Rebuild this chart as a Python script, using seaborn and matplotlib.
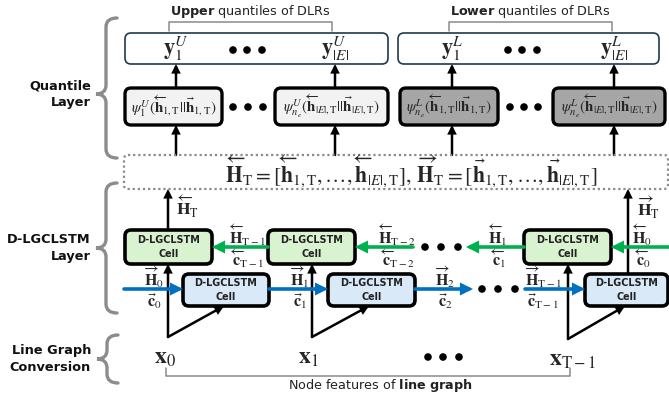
import numpy as np
import pandas as pd
import matplotlib
matplotlib.use("Agg")
import matplotlib.pyplot as plt
import seaborn as sns
from matplotlib.patches import FancyBboxPatch, FancyArrowPatch, PathPatch
from matplotlib.path import Path

sns.set_theme(style="white")
plt.rcParams['font.family'] = ['DejaVu Sans']
plt.rcParams['mathtext.fontset'] = 'stix'

# ---------------- content ----------------
section_titles = ["Quantile\nLayer", "D-LGCLSTM\nLayer", "Line Graph\nConversion"]
group_titles = [r"$\mathbf{Upper}$ quantiles of DLRs", r"$\mathbf{Lower}$ quantiles of DLRs"]
output_labels = [r"$\mathbf{y}_1^U$", r"$\mathbf{y}_{|E|}^U$", r"$\mathbf{y}_1^L$", r"$\mathbf{y}_{|E|}^L$"]
psi_labels = [
    r"$\psi_1^U(\overleftarrow{\mathbf{h}}_{1,\mathrm{T}}||\vec{\mathbf{h}}_{1,\mathrm{T}})$",
    r"$\psi_{n_e}^U(\overleftarrow{\mathbf{h}}_{|E|,\mathrm{T}}||\vec{\mathbf{h}}_{|E|,\mathrm{T}})$",
    r"$\psi_{n_e}^L(\overleftarrow{\mathbf{h}}_{1,\mathrm{T}}||\vec{\mathbf{h}}_{1,\mathrm{T}})$",
    r"$\psi_{n_e}^L(\overleftarrow{\mathbf{h}}_{|E|,\mathrm{T}}||\vec{\mathbf{h}}_{|E|,\mathrm{T}})$",
]
psi_shades = ["light", "light", "dark", "dark"]
hidden_formula = (r"$\overleftarrow{\mathbf{H}}_{\mathrm{T}}=[\overleftarrow{\mathbf{h}}_{1,\mathrm{T}},\ldots,"
                  r"\overleftarrow{\mathbf{h}}_{|E|,\mathrm{T}}],\,\overrightarrow{\mathbf{H}}_{\mathrm{T}}="
                  r"[\vec{\mathbf{h}}_{1,\mathrm{T}},\ldots,\vec{\mathbf{h}}_{|E|,\mathrm{T}}]$")
cell_label = "D-LGCLSTM\nCell"
backward_h = [r"$\overleftarrow{\mathbf{H}}_{\mathrm{T}-1}$", r"$\overleftarrow{\mathbf{H}}_{\mathrm{T}-2}$",
              r"$\overleftarrow{\mathbf{H}}_{1}$", r"$\overleftarrow{\mathbf{H}}_{0}$"]
backward_c = [r"$\overleftarrow{\mathbf{c}}_{\mathrm{T}-1}$", r"$\overleftarrow{\mathbf{c}}_{\mathrm{T}-2}$",
              r"$\overleftarrow{\mathbf{c}}_{1}$", r"$\overleftarrow{\mathbf{c}}_{0}$"]
forward_h = [r"$\overrightarrow{\mathbf{H}}_{0}$", r"$\overrightarrow{\mathbf{H}}_{1}$",
             r"$\overrightarrow{\mathbf{H}}_{2}$", r"$\overrightarrow{\mathbf{H}}_{\mathrm{T}-1}$"]
forward_c = [r"$\vec{\mathbf{c}}_{0}$", r"$\vec{\mathbf{c}}_{1}$", r"$\vec{\mathbf{c}}_{2}$", r"$\vec{\mathbf{c}}_{\mathrm{T}-1}$"]
final_states = [r"$\overleftarrow{\mathbf{H}}_{\mathrm{T}}$", r"$\overrightarrow{\mathbf{H}}_{\mathrm{T}}$"]
input_labels = [r"$\mathbf{x}_0$", r"$\mathbf{x}_1$", r"$\mathbf{x}_{\mathrm{T}-1}$"]
bottom_caption = r"Node features of $\mathbf{line\ graph}$"

# ---------------- layout (pixel coordinates) ----------------
W, H = 669, 401
fig = plt.figure(figsize=(W / 100, H / 100), dpi=100)
ax = fig.add_axes([0, 0, 1, 1])
ax.set_xlim(0, W)
ax.set_ylim(H, 0)
ax.axis('off')

GREEN, BLUE, GRAY = '#00b050', '#0070c0', '#8c8c8c'

def rbox(x0, y0, x1, y1, fc, ec, lw, r=6, ls='-'):
    p = FancyBboxPatch((x0, y0), x1 - x0, y1 - y0,
                       boxstyle=f"round,pad=0,rounding_size={r}",
                       fc=fc, ec=ec, lw=lw, ls=ls, zorder=3)
    ax.add_patch(p)

def arrow(x0, y0, x1, y1, color='black', lw=1.8, ms=11, z=2):
    ax.add_patch(FancyArrowPatch((x0, y0), (x1, y1), arrowstyle='-|>', mutation_scale=ms,
                                 lw=lw, color=color, shrinkA=0, shrinkB=0, zorder=z,
                                 joinstyle='miter'))

def brace(xt, y0, y1, ym, color=GRAY, lw=2.4):
    xm, xe, r = xt + 10, xt + 21, 9
    verts = [(xe, y0), (xm, y0), (xm, y0 + r), (xm, ym - r), (xm, ym), (xt, ym),
             (xm, ym), (xm, ym + r), (xm, y1 - r), (xm, y1), (xe, y1)]
    codes = [Path.MOVETO, Path.CURVE3, Path.CURVE3, Path.LINETO, Path.CURVE3, Path.CURVE3,
             Path.CURVE3, Path.CURVE3, Path.LINETO, Path.CURVE3, Path.CURVE3]
    ax.add_patch(PathPatch(Path(verts, codes), fc='none', ec=color, lw=lw, capstyle='round'))

# section braces and titles
sec_pos = [(96, 18, 158, 94), (96, 183, 313, 248), (97, 335, 383, 359)]
for title, (xt, y0, y1, ym) in zip(section_titles, sec_pos):
    brace(xt, y0, y1, ym)
    ax.text(91, ym, title, ha='right', va='center', multialignment='right',
            fontsize=9.3, fontweight='bold', color='#111111', linespacing=1.35)

# group titles with brackets
grp_pos = [(250, 169, 332), (530, 449, 612)]
for title, (xc, xa, xb) in zip(group_titles, grp_pos):
    ax.text(xc, 12, title, ha='center', va='center', fontsize=9.2, color='#222222',
            math_fontfamily='dejavusans')
    ax.plot([xa, xa, xb, xb], [31, 22, 22, 31], color='#8a8a8a', lw=1.1)

# output boxes
for x0, x1 in [(125, 388), (398, 659)]:
    rbox(x0, 33, x1, 64, 'white', '#1f3a4d', 1.2, r=6)
out_x = [176, 335, 452, 614]
for lab, x in zip(output_labels, out_x):
    ax.text(x, 49, lab, ha='center', va='center', fontsize=16, zorder=5)

# psi boxes
psi_box = [(125, 222), (275, 388), (400, 498), (553, 665)]
shade = {'light': '#f2f2f2', 'dark': '#a6a6a6'}
for lab, sh, (x0, x1) in zip(psi_labels, psi_shades, psi_box):
    rbox(x0, 88, x1, 125, shade[sh], 'black', 2.4, r=6)
    ax.text((x0 + x1) / 2, 106, lab, ha='center', va='center', fontsize=10.8, zorder=5)

# arrows psi -> outputs and hidden -> psi
for x in out_x:
    arrow(x, 88, x, 64, ms=10)
    arrow(x, 155, x, 125, ms=10)

# hidden-state dotted box
rbox(124, 155, 668, 189, 'none', '#8a8a8a', 1.6, r=4, ls=(0, (1, 1.3)))
ax.text(411, 171, hidden_formula, ha='center', va='center', fontsize=15.5, zorder=5)

# backward (green) cells
green_cells = [(125, 212), (268, 355), (524, 611)]
for x0, x1 in green_cells:
    rbox(x0, 230, x1, 264, '#d9f2d0', 'black', 2.6, r=6)
    ax.text((x0 + x1) / 2, 247, cell_label, ha='center', va='center', fontsize=6.9,
            fontweight='bold', color='#222222', zorder=5, linespacing=1.55)

# forward (blue) cells
blue_cells = [(183, 269), (328, 415), (585, 668)]
for x0, x1 in blue_cells:
    rbox(x0, 274, x1, 306, '#dae9f8', 'black', 2.6, r=6)
    ax.text((x0 + x1) / 2, 290, cell_label, ha='center', va='center', fontsize=6.9,
            fontweight='bold', color='#222222', zorder=5, linespacing=1.55)

# green recurrent arrows (right to left)
g_y = 247
green_arrows = [(268, 212), (413, 355), (524, 466), (672, 611)]
for xa, xb in green_arrows:
    arrow(xa, g_y, xb, g_y, color=GREEN, lw=2.6, ms=13, z=4)
g_lab_x = [247, 397, 498, 642]
for h, c, x in zip(backward_h, backward_c, g_lab_x):
    ax.text(x, 235, h, ha='center', va='center', fontsize=11.5)
    ax.text(x, 259, c, ha='center', va='center', fontsize=11.5)

# blue recurrent arrows (left to right)
b_y = 289
blue_arrows = [(124, 183), (269, 328), (415, 473), (525, 585)]
for xa, xb in blue_arrows:
    arrow(xa, b_y, xb, b_y, color=BLUE, lw=2.6, ms=13, z=4)
b_lab_x = [154, 300, 445, 543]
for h, c, x in zip(forward_h, forward_c, b_lab_x):
    ax.text(x, 277, h, ha='center', va='center', fontsize=11.5)
    ax.text(x, 301, c, ha='center', va='center', fontsize=11.5)

# input connections: vertical to green cell, diagonal to blue cell
inputs = [(168, 337, 224), (312, 337, 369), (568, 339, 625)]
for xv, yb, xd in inputs:
    arrow(xv, yb, xv, 264, ms=10, z=2)
    arrow(xv, yb, xd, 306, ms=10, z=2)

# final hidden-state outputs
arrow(168, 230, 168, 189, ms=10)
ax.text(187, 207, final_states[0], ha='center', va='center', fontsize=12.5)
arrow(628, 274, 628, 189, ms=10)
ax.text(648, 208, final_states[1], ha='center', va='center', fontsize=12.5)

# input labels
in_pos = [(165, 357), (308, 357), (572, 359)]
for lab, (x, y) in zip(input_labels, in_pos):
    ax.text(x, y, lab, ha='center', va='center', fontsize=17)

# bottom bracket and caption
ax.plot([166, 166, 570, 570], [368, 376, 376, 368], color='#8a8a8a', lw=1.1)
ax.text(380, 386, bottom_caption, ha='center', va='center', fontsize=9.2, color='#222222',
        math_fontfamily='dejavusans')

# ellipsis dots
dots = pd.DataFrame({
    'x': [233, 247, 262, 508, 522, 537, 233, 248, 263, 510, 524, 538,
          425, 441, 458, 482, 498, 515, 428, 443, 459],
    'y': [50, 50, 50, 50, 50, 50, 107, 107, 107, 107, 107, 107,
          247, 247, 247, 289, 289, 289, 357, 357, 357],
})
sns.scatterplot(data=dots, x='x', y='y', ax=ax, color='black', s=30, edgecolor='none',
                legend=False, zorder=6)
ax.set_xlim(0, W)
ax.set_ylim(H, 0)
ax.axis('off')

fig.savefig('out.png', dpi=100)
